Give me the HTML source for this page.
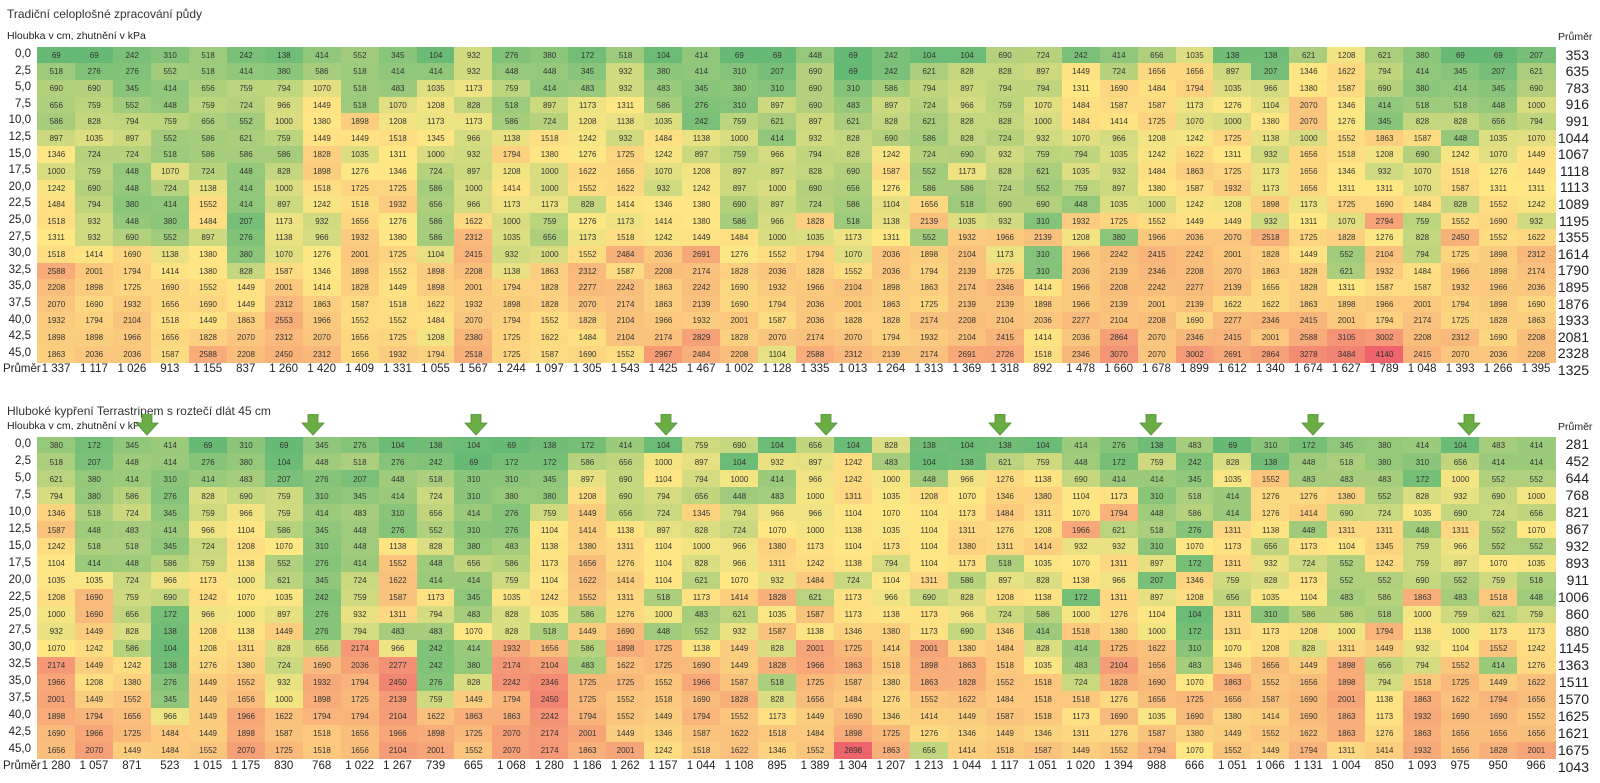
<!DOCTYPE html>
<html><head><meta charset="utf-8">
<style>
body{margin:0;width:1600px;height:783px;background:#fff;position:relative;overflow:hidden;font-family:"Liberation Sans",sans-serif;color:#222}
.a{position:absolute;white-space:nowrap}
.c{position:absolute;font-size:8px;color:#333;display:flex;align-items:center;justify-content:center}
.t{font-size:12px;color:#333}
.h{font-size:10.5px;color:#222}
.l{font-size:11.5px;text-align:right;width:30px}
.r{font-size:14px;text-align:right;width:40px}
.b{font-size:11.5px;text-align:center;width:38px}
</style></head><body>
<div id="root"></div>
<script>
const T1=[
"69 69 242 310 518 242 138 414 552 345 104 932 276 380 172 518 104 414 69 69 448 69 242 104 104 690 724 242 414 656 1035 138 138 621 1208 621 380 69 69 207",
"518 276 276 552 518 414 380 586 518 414 414 932 448 448 345 932 380 414 310 207 690 69 242 621 828 828 897 1449 724 1656 1656 897 207 1346 1622 794 414 345 207 621",
"690 690 345 414 656 759 794 1070 518 483 1035 1173 759 414 483 932 483 345 380 310 690 310 586 794 897 794 794 1311 1690 1484 1794 1035 966 1380 1587 690 380 414 345 690",
"656 759 552 448 759 724 966 1449 518 1070 1208 828 518 897 1173 1311 586 276 310 897 690 483 897 724 966 759 1070 1484 1587 1587 1173 1276 1104 2070 1346 414 518 518 448 1000",
"586 828 794 759 656 552 1000 1380 1898 1208 1173 1173 586 724 1208 1138 1035 242 759 621 897 621 828 621 828 828 1000 1484 1414 1725 1070 1000 1380 2070 1276 345 828 828 656 794",
"897 1035 897 552 586 621 759 1449 1449 1518 1345 966 1138 1518 1242 932 1484 1138 1000 414 932 828 690 586 828 724 932 1070 966 1208 1242 1725 1138 1000 1552 1863 1587 448 1035 1070",
"1346 724 724 518 586 586 586 1828 1035 1311 1000 932 1794 1380 1276 1725 1242 897 759 966 794 828 1242 724 690 932 759 794 1035 1242 1622 1311 932 1656 1518 1208 690 1242 1070 1449",
"1000 759 448 1070 724 448 828 1898 1276 1346 724 897 1208 1000 1622 1656 1070 1208 897 897 828 690 1587 552 1173 828 621 1035 932 1484 1863 1725 1173 1656 1346 932 1070 1518 1276 1449",
"1242 690 448 724 1138 414 1000 1518 1725 1725 586 1000 1414 1000 1552 1622 932 1242 897 1000 690 656 1276 586 586 724 552 759 897 1380 1587 1932 1173 1656 1311 1311 1070 1587 1311 1311",
"1484 794 380 414 1552 414 897 1242 1518 1932 656 966 1173 1173 828 1414 1346 1380 690 897 724 586 1104 1656 518 690 690 448 1035 1000 1242 1208 1898 1173 1725 1690 1484 828 1552 1242",
"1518 932 448 380 1484 207 1173 932 1656 1276 586 1622 1000 759 1276 1173 1414 1380 586 966 1828 518 1138 2139 1035 932 310 1932 1725 1552 1449 1449 932 1311 1070 2794 759 1552 1690 932",
"1311 932 690 552 897 276 1138 966 1932 1380 586 2312 1035 656 1173 1518 1242 1449 1484 1000 1035 1173 1311 552 1932 1966 2139 1208 380 1966 2036 2070 2518 1725 1828 1276 828 2450 1552 1622",
"1518 1414 1690 1138 1380 380 1070 1276 2001 1725 1104 2415 932 1000 1552 2484 2036 2691 1276 1552 1794 1070 2036 1898 2104 1173 310 1966 2242 2415 2242 2001 1828 1449 552 2104 794 1725 1898 2312",
"2588 2001 1794 1414 1380 828 1587 1346 1898 1552 1898 2208 1138 1863 2312 1587 2208 2174 1828 2036 1828 1552 2036 1794 2139 1725 310 2036 2139 2346 2208 2070 1863 1828 621 1932 1484 1966 1898 2174",
"2208 1898 1725 1690 1552 1449 2001 1414 1828 1449 1898 2001 1794 1828 2277 2242 1863 2242 1690 1932 1966 2104 1898 1863 2174 2346 1414 1966 2208 2242 2277 2139 1656 1828 1311 1587 1587 1932 1966 2036",
"2070 1690 1932 1656 1690 1449 2312 1863 1587 1518 1622 1932 1898 1828 2070 2174 1863 2139 1690 1794 2036 2001 1863 1725 2139 2139 1898 1966 2139 2001 2139 1622 1622 1863 1898 1966 2001 1794 1898 1690",
"1932 1794 2104 1518 1449 1863 2553 1966 1552 1552 1484 2070 1794 1552 1828 2104 1966 1932 2001 1587 2036 1828 1828 2174 2208 2104 2036 2277 2104 2208 1690 2277 2346 2415 2001 1794 2174 1725 1828 1863",
"1898 1898 1966 1656 1828 2070 2312 2070 1656 1725 1208 2380 1725 1622 1484 2104 2174 2829 1828 2070 2174 2070 1794 1932 2104 2415 1414 2036 2864 2070 2346 2415 2001 2588 3105 3002 2208 2312 1690 2208",
"1863 2036 2036 1587 2588 2208 2450 2312 1656 1932 1794 2518 1725 1587 1690 1552 2967 2484 2208 1104 2588 2312 2139 2174 2691 2726 1518 2346 3070 2070 3002 2691 2864 3278 3484 4140 2415 2070 2036 2208"];
const T2=[
"380 172 345 414 69 310 69 345 276 104 138 104 69 138 172 414 104 759 690 104 656 104 828 138 104 138 104 414 276 138 483 69 310 172 345 380 414 104 483 414",
"518 207 448 414 276 380 104 448 518 276 242 69 172 172 586 656 1000 897 104 932 897 1242 483 104 138 621 759 448 172 759 242 828 138 448 518 380 310 656 414 414",
"621 380 414 310 414 483 207 276 207 448 518 310 310 345 897 690 1104 794 1000 414 966 1242 1000 448 966 1276 1138 690 414 414 345 1035 1552 483 483 483 172 1000 552 552",
"794 380 586 276 828 690 759 310 345 414 724 310 380 380 1208 690 794 656 448 483 1000 1311 1035 1208 1070 1346 1380 1104 1173 310 518 414 1276 1276 1380 552 828 932 690 1000",
"1346 518 724 345 759 966 759 414 483 310 656 414 276 759 1449 656 724 1345 794 966 966 1104 1070 1104 1173 1484 1311 1070 1794 448 586 414 1276 1414 690 724 1035 690 724 656",
"1587 448 483 414 966 1104 586 345 448 276 552 310 276 1104 1414 1138 897 828 724 1070 1000 1138 1035 1104 1311 1276 1208 1966 621 518 276 1311 1138 448 1311 1311 448 1311 552 1070",
"1242 518 518 345 724 1208 1070 310 448 1138 828 380 483 1138 1380 1311 1104 1000 966 1380 1173 1104 1173 1104 1380 1311 1414 932 932 310 1070 1173 656 1173 1104 1345 759 966 552 552",
"1104 414 448 586 759 1138 552 276 414 1552 448 656 586 1173 1656 1276 1104 828 966 1311 1242 1138 794 1104 1173 518 1035 1070 1311 897 172 1311 932 724 552 1242 759 897 1070 1035",
"1035 1035 724 966 1173 1000 621 345 724 1622 414 414 759 1104 1622 1414 1104 621 1070 932 1484 724 1104 1311 586 897 828 1138 966 207 1346 759 828 1173 552 552 690 552 759 518",
"1208 1690 759 690 1242 1070 1035 242 759 1587 1173 345 1035 1242 1552 1311 518 1173 1414 1828 621 1173 966 690 828 1208 1138 172 1311 897 1208 656 1035 1104 483 586 1863 483 1518 448",
"1000 1690 656 172 966 1000 897 276 932 1311 794 483 828 1035 586 1276 1000 483 621 1035 1587 1173 1138 1173 966 724 586 1000 1276 1104 104 1311 310 586 586 518 1000 759 621 759",
"932 1449 828 138 1208 1138 1449 276 794 483 483 1070 828 518 1449 1690 448 552 932 1587 1138 1346 1380 1173 690 1346 414 1518 1380 1000 172 1311 1173 1208 1000 1794 1138 1000 1173 1173",
"1070 1242 586 104 1208 1311 828 656 2174 966 242 414 1932 1656 586 1898 1725 1138 1449 828 2001 1725 1414 2001 1380 1484 828 414 1725 1622 310 1070 1208 828 1311 1449 932 1104 1552 1242",
"2174 1449 1242 138 1276 1380 724 1690 2036 2277 242 380 2174 2104 483 1622 1725 1690 1449 1828 1966 1863 1518 1898 1863 1518 1035 483 2104 1656 483 1346 1656 1449 1898 656 794 1552 414 1276",
"1966 1208 1380 276 1449 1552 932 1932 1794 2450 276 828 2242 2346 1725 1725 1552 1966 1587 518 1725 1587 1380 1863 1828 1552 1518 724 1828 1690 1070 1863 1552 1656 1898 794 1518 1725 1449 1622",
"2001 1449 1552 345 1449 1656 1000 1898 1725 2139 759 1449 1794 2450 1725 1552 1518 1690 1828 828 1656 1484 1276 1552 1622 1484 1518 1518 1276 1656 1725 1656 1587 1690 2001 1138 1863 1622 1794 1656",
"1898 1794 1656 966 1449 1966 1622 1794 1794 2104 1622 1863 1863 2242 1794 1552 1449 1794 1552 1173 1449 1690 1346 1414 1449 1587 1518 1173 1690 1035 1690 1380 1414 1690 1863 1173 1932 1690 1690 1552",
"1690 1966 1725 1484 1449 1898 1587 1518 1656 1966 1898 1725 2070 2174 2001 1449 1346 1587 1622 1518 1484 1898 1725 1276 1346 1449 1346 1311 1276 1587 1380 1449 1552 1622 1863 1276 1863 1656 1656 1656",
"1656 2070 1449 1484 1552 2070 1725 1518 1656 2104 2001 1552 2070 2174 1863 2001 1242 1518 1622 1346 1552 2898 1863 656 1414 1518 1587 1449 1552 1794 1070 1552 1449 1794 1311 1414 1932 1656 1828 2001"];
const B1="1 337|1 117|1 026|913|1 155|837|1 260|1 420|1 409|1 331|1 055|1 567|1 244|1 097|1 305|1 543|1 425|1 467|1 002|1 128|1 335|1 013|1 264|1 313|1 369|1 318|892|1 478|1 660|1 678|1 899|1 612|1 340|1 674|1 627|1 789|1 048|1 393|1 266|1 395".split("|");
const B2="1 280|1 057|871|523|1 015|1 175|830|768|1 022|1 267|739|665|1 068|1 280|1 186|1 262|1 157|1 044|1 108|895|1 389|1 304|1 207|1 213|1 044|1 117|1 051|1 020|1 394|988|666|1 051|1 066|1 131|1 004|850|1 093|975|950|966".split("|");
const R1="353 635 783 916 991 1044 1067 1118 1113 1089 1195 1355 1614 1790 1895 1876 1933 2081 2328".split(" ");
const R2="281 452 644 768 821 867 932 893 911 1006 860 880 1145 1363 1511 1570 1625 1621 1675".split(" ");
const L="0,0 2,5 5,0 7,5 10,0 12,5 15,0 17,5 20,0 22,5 25,0 27,5 30,0 32,5 35,0 37,5 40,0 42,5 45,0".split(" ");
let h="";
function add(cls,x,y,txt,extra){h+=`<div class="a ${cls}" style="left:${x}px;top:${y}px;${extra||""}">${txt}</div>`;}
const G=[102,186,118],Y=[255,232,132],Rr=[238,100,108];
function mix(a,b,t){return a.map((v,i)=>Math.round(v+(b[i]-v)*t));}
function table(D,top,rh,B,R,title,ty){
  const rows=D.map(r=>{let a=r.split(" ").map(Number);while(a.length<40)a.push(a[a.length-1]);return a.slice(0,40);});
  const all=rows.flat().slice().sort((a,b)=>a-b);
  const mn=all[0],mx=all[all.length-1],md=all[Math.floor(all.length/2)];
  add("t",7,ty-8,title);
  add("h",7,top-17,"Hloubka v cm, zhutnění v kPa");
  add("h",1558,top-16,"Průměr");
  const x0=37,cw=37.95;
  rows.forEach((r,i)=>{
    const y=top+i*rh;
    add("l",1,y+rh/2-7,L[i]);
    r.forEach((v,j)=>{
      const c=v<=md?mix(G,Y,(v-mn)/(md-mn)):mix(Y,Rr,(v-md)/(mx-md));
      h+=`<div class="c" style="left:${(x0+j*cw).toFixed(2)}px;top:${y.toFixed(2)}px;width:${(cw+0.6).toFixed(2)}px;height:${(rh+0.6).toFixed(2)}px;background:rgb(${c})">${v}</div>`;
    });
    add("r",1549,y+rh/2-8.5,R[i]);
  });
  const yb=top+19*rh+1;
  add("",3,yb,"Průměr","font-size:11.5px");
  B.forEach((v,j)=>add("b",x0+j*cw,yb,v));
  add("r",1549,yb-1,R===R1?"1325":"1043");
}
table(T1,46.7,16.6,B1,R1,"Tradiční celoplošné zpracování půdy",15);
table(T2,436.5,16.95,B2,R2,"Hluboké kypření Terrastripem s roztečí dlát 45 cm",412);
const AX=[147,313,476,666,826,1000,1151,1313,1469];
AX.forEach(x=>{h+=`<svg class="a" style="left:${x-12}px;top:414px" width="24" height="22"><polygon points="7,0 17,0 17,9 23,9 12,21 1,9 7,9" fill="#6aad45" stroke="#4f8f35" stroke-width="0.8"/></svg>`;});
document.getElementById("root").innerHTML=h;
</script>
</body></html>
